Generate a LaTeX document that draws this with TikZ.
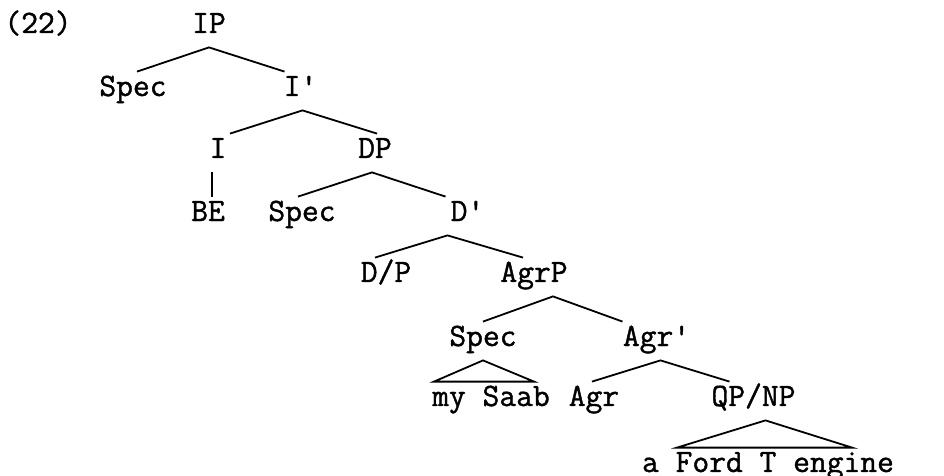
\documentclass[tikz,border=0pt]{standalone}
\usepackage{fontspec}
\setmonofont{Latin Modern Mono}[FakeBold=1.2]
\begin{document}
\begin{tikzpicture}[x=0.5pt,y=-0.5pt,
	lbl/.style={font=\ttfamily\fontsize{16.3}{19}\selectfont,anchor=base,inner sep=3pt,text height=9pt,text depth=4pt},
	br/.style={line width=0.9pt}]
	\useasboundingbox (0,0) rectangle (944,476);
	% les noeuds
	\node[lbl] (ex) at (38,33) {(22)};
	\node[lbl] (IP) at (209,33) {IP};
	\node[lbl] (SpecI) at (133,96) {Spec};
	\node[lbl] (Ibar) at (300.5,96) {I'};
	\node[lbl] (I) at (218,158) {I};
	\node[lbl] (DP) at (375,158) {DP};
	\node[lbl] (BE) at (208,221) {BE};
	\node[lbl] (SpecD) at (302,221) {Spec};
	\node[lbl] (Dbar) at (467.5,221) {D'};
	\node[lbl] (DslP) at (386,282) {D/P};
	\node[lbl] (AgrP) at (534,282) {AgrP};
	\node[lbl] (SpecAgr) at (483,346) {Spec};
	\node[lbl] (Agrbar) at (656.5,346) {Agr'};
	\node[lbl] (MySaab) at (491,406) {my Saab};
	\node[lbl] (Agr) at (594,406) {Agr};
	\node[lbl] (QPNP) at (753.5,406) {QP/NP};
	\node[lbl] (FordT) at (768,472) {a Ford T engine};
	% les branches
	\draw[br] ([xshift=2pt]SpecI.north) -- (IP.south) -- ([xshift=-8pt]Ibar.north);
	\draw[br] ([xshift=6pt]I.north) -- ([xshift=1pt]Ibar.south) -- ([xshift=1pt]DP.north);
	\draw[br] ([xshift=-3pt]I.south) -- ([xshift=-3pt]I.south |- BE.north);
	\draw[br] ([xshift=-2pt]SpecD.north) -- ([xshift=-1.5pt]DP.south) -- ([xshift=-11pt]Dbar.north);
	\draw[br] ([xshift=-5.5pt]DslP.north) -- ([xshift=-10pt]Dbar.south) -- ([xshift=-5.5pt]AgrP.north);
	\draw[br] (SpecAgr.north) -- ([xshift=9.5pt]AgrP.south) -- ([xshift=-17pt]Agrbar.north);
	\draw[br] ([xshift=-1pt]Agr.north) -- ([xshift=2pt]Agrbar.south) -- ([xshift=-12pt]QPNP.north);
	% triangles
	\draw[br] (SpecAgr.south) -- ([xshift=-28.5pt]MySaab.north) -- ([xshift=21.5pt]MySaab.north) -- cycle;
	\draw[br] ([xshift=6pt]QPNP.south) -- ([xshift=-45.5pt]FordT.north) -- ([xshift=42pt]FordT.north) -- cycle;
\end{tikzpicture}
\end{document}
